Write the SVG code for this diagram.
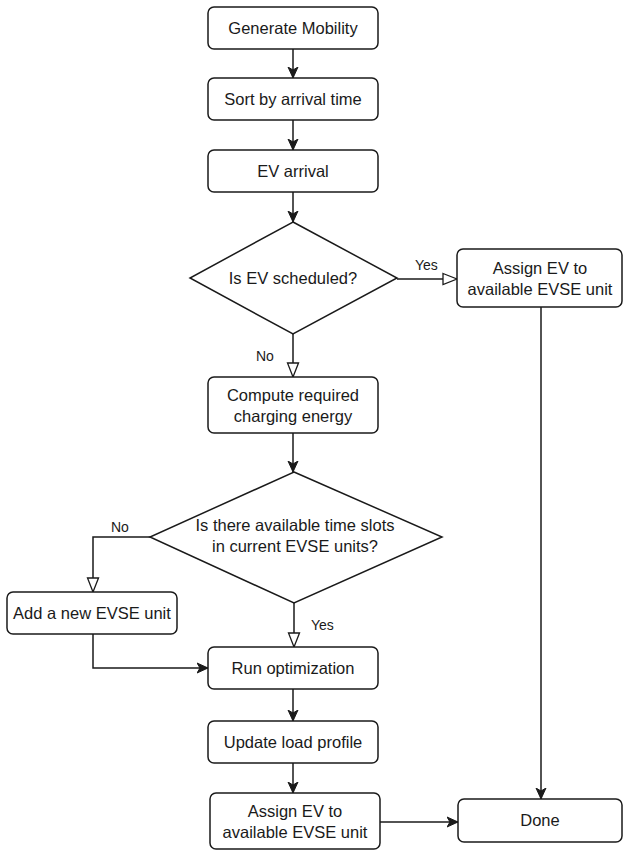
<svg xmlns="http://www.w3.org/2000/svg" width="623" height="854" viewBox="0 0 623 854">
<style>
.n{fill:#fff;stroke:#1a1a1a;stroke-width:1.5}
.t{font-family:"Liberation Sans",Arial,sans-serif;font-size:16.5px;fill:#1a1a1a;text-anchor:middle}
.l{font-family:"Liberation Sans",Arial,sans-serif;font-size:14px;fill:#1a1a1a}
.c{fill:none;stroke:#1a1a1a;stroke-width:1.5}
</style>
<defs>
<marker id="fa" markerUnits="userSpaceOnUse" markerWidth="12" markerHeight="12" viewBox="0 0 12 12" refX="11" refY="6" orient="auto">
<path d="M0,1 L11,6 L0,11 L3,6 z" fill="#1a1a1a" stroke="#1a1a1a" stroke-width="1"/>
</marker>
<marker id="oa" markerUnits="userSpaceOnUse" markerWidth="16" markerHeight="14" viewBox="0 0 16 14" refX="15" refY="7" orient="auto">
<path d="M1,1.5 L15,7 L1,12.5 z" fill="#fff" stroke="#1a1a1a" stroke-width="1.3"/>
</marker>
</defs>
<g id="connectors">
<path class="c" d="M293,49 V78" marker-end="url(#fa)"/>
<path class="c" d="M293,120 V150" marker-end="url(#fa)"/>
<path class="c" d="M293,192 V222" marker-end="url(#fa)"/>
<path class="c" d="M397,279 H457" marker-end="url(#oa)"/>
<text class="l" x="415" y="270">Yes</text>
<path class="c" d="M293,334 V377" marker-end="url(#oa)"/>
<text class="l" x="256" y="361">No</text>
<path class="c" d="M293,433 V472" marker-end="url(#fa)"/>
<path class="c" d="M150,537 H93 V592" marker-end="url(#oa)"/>
<text class="l" x="111" y="532">No</text>
<path class="c" d="M294,603 V647" marker-end="url(#oa)"/>
<text class="l" x="311" y="630">Yes</text>
<path class="c" d="M93,634 V668 H208" marker-end="url(#fa)"/>
<path class="c" d="M293,689 V721" marker-end="url(#fa)"/>
<path class="c" d="M293,763 V793" marker-end="url(#fa)"/>
<path class="c" d="M380,822 H458" marker-end="url(#fa)"/>
<path class="c" d="M541,307 V799" marker-end="url(#fa)"/>
</g>
<g id="generate">
<rect class="n" x="208" y="7" width="170" height="42" rx="6"/>
<text class="t" x="293" y="34">Generate Mobility</text>
</g>
<g id="sort">
<rect class="n" x="208" y="78" width="170" height="42" rx="6"/>
<text class="t" x="293" y="105">Sort by arrival time</text>
</g>
<g id="arrival">
<rect class="n" x="208" y="150" width="170" height="42" rx="6"/>
<text class="t" x="293" y="177">EV arrival</text>
</g>
<g id="scheduled">
<polygon class="n" points="293,222 397,278 293,334 190,278"/>
<text class="t" x="293" y="284">Is EV scheduled?</text>
</g>
<g id="assign1">
<rect class="n" x="457" y="249" width="165" height="58" rx="6"/>
<text class="t" x="540" y="274">Assign EV to</text>
<text class="t" x="540" y="295">available EVSE unit</text>
</g>
<g id="compute">
<rect class="n" x="208" y="377" width="170" height="56" rx="6"/>
<text class="t" x="293" y="401">Compute required</text>
<text class="t" x="293" y="422">charging energy</text>
</g>
<g id="slots">
<polygon class="n" points="294,472 442,537 294,603 150,537"/>
<text class="t" x="295" y="531">Is there available time slots</text>
<text class="t" x="295" y="552">in current EVSE units?</text>
</g>
<g id="addunit">
<rect class="n" x="7" y="592" width="170" height="42" rx="6"/>
<text class="t" x="92" y="619">Add a new EVSE unit</text>
</g>
<g id="run">
<rect class="n" x="208" y="647" width="170" height="42" rx="6"/>
<text class="t" x="293" y="674">Run optimization</text>
</g>
<g id="update">
<rect class="n" x="208" y="721" width="170" height="42" rx="6"/>
<text class="t" x="293" y="748">Update load profile</text>
</g>
<g id="assign2">
<rect class="n" x="210" y="793" width="170" height="56" rx="6"/>
<text class="t" x="295" y="817">Assign EV to</text>
<text class="t" x="295" y="838">available EVSE unit</text>
</g>
<g id="done">
<rect class="n" x="458" y="799" width="164" height="43" rx="6"/>
<text class="t" x="540" y="826">Done</text>
</g>
</svg>
